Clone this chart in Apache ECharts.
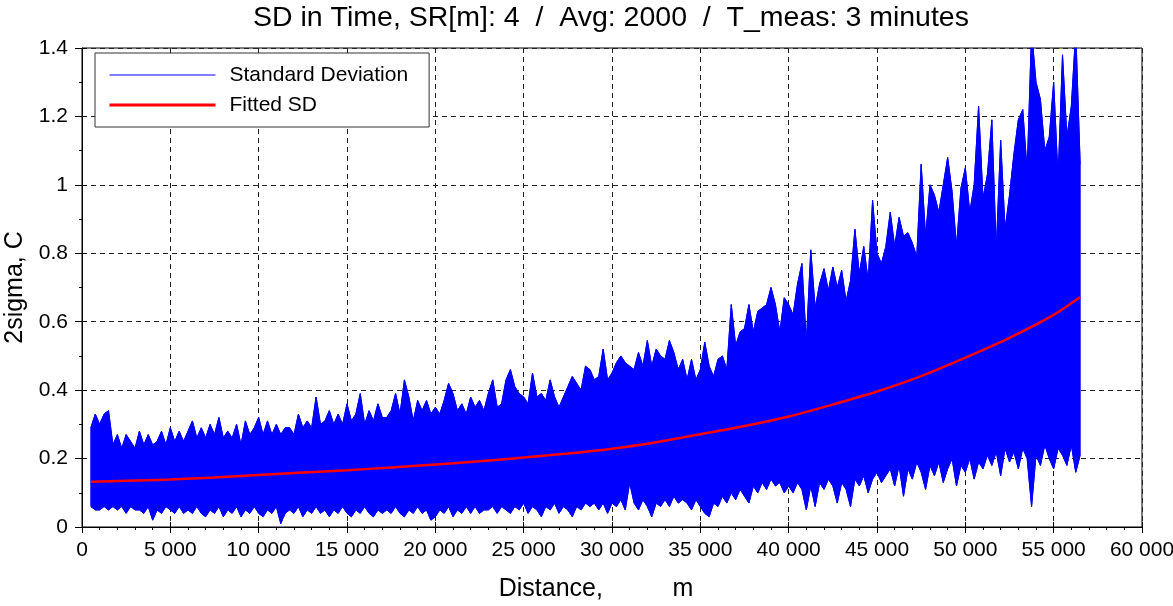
<!DOCTYPE html>
<html>
<head>
<meta charset="utf-8">
<script src="https://cdn.jsdelivr.net/npm/echarts@6/dist/echarts.min.js"></script>
<style>
  html, body { margin: 0; padding: 0; background: #fff; }
  #chart { width: 1173px; height: 606px; }
</style>
</head>
<body>
<div id="chart"></div>
<script>
// Standard deviation envelope, sampled every 250 m from 500 m
const sampleStart = 500;
const sampleStep = 250;

// upper edge of the 2-sigma trace (C)
const sdUpper = [
  0.29, 0.33, 0.30, 0.33, 0.34, 0.24, 0.27, 0.23, 0.27, 0.25, 0.23, 0.28, 0.24, 0.27, 0.24, 0.25, 0.28, 0.24, 0.29, 0.25, 0.28, 0.25,
  0.28, 0.31, 0.26, 0.29, 0.26, 0.30, 0.27, 0.32, 0.26, 0.28, 0.26, 0.30, 0.24, 0.31, 0.27, 0.29, 0.32, 0.27, 0.31, 0.27, 0.30, 0.27, 0.29,
  0.29, 0.27, 0.33, 0.29, 0.31, 0.29, 0.38, 0.30, 0.31, 0.34, 0.30, 0.33, 0.30, 0.36, 0.31, 0.33, 0.39, 0.30, 0.34, 0.31, 0.36, 0.32,
  0.32, 0.34, 0.39, 0.33, 0.43, 0.38, 0.31, 0.37, 0.34, 0.37, 0.33, 0.35, 0.33, 0.37, 0.42, 0.39, 0.34, 0.36, 0.33, 0.38, 0.35, 0.37, 0.34,
  0.39, 0.43, 0.35, 0.36, 0.43, 0.46, 0.41, 0.39, 0.38, 0.36, 0.45, 0.38, 0.39, 0.37, 0.43, 0.38, 0.35, 0.38, 0.41, 0.44, 0.42, 0.40, 0.47,
  0.46, 0.43, 0.44, 0.52, 0.43, 0.45, 0.48, 0.50, 0.48, 0.47, 0.46, 0.51, 0.47, 0.545, 0.47, 0.52, 0.50, 0.49, 0.545, 0.51, 0.46, 0.49,
  0.43, 0.49, 0.43, 0.46, 0.54, 0.47, 0.44, 0.49, 0.50, 0.46, 0.65, 0.53, 0.57, 0.58, 0.65, 0.57, 0.63, 0.64, 0.65, 0.70, 0.65, 0.57, 0.67,
  0.65, 0.62, 0.71, 0.77, 0.54, 0.81, 0.64, 0.71, 0.755, 0.69, 0.76, 0.70, 0.75, 0.66, 0.72, 0.87, 0.74, 0.82, 0.72, 0.955, 0.80, 0.77, 0.82,
  0.92, 0.82, 0.905, 0.85, 0.86, 0.83, 0.79, 1.06, 0.85, 1.00, 0.97, 0.92, 1.00, 1.08, 0.98, 0.82, 0.99, 1.05, 0.92, 1.00, 1.23, 0.96,
  1.03, 1.19, 0.81, 1.13, 0.87, 0.97, 1.09, 1.19, 1.22, 1.04, 1.45, 1.30, 1.25, 1.10, 1.14, 1.30, 1.02, 1.38, 1.14, 1.23, 1.45, 1.06
];

// lower edge of the 2-sigma trace (C)
const sdLower = [
  0.06, 0.05, 0.05, 0.06, 0.05, 0.06, 0.05, 0.06, 0.04, 0.06, 0.05, 0.05, 0.04, 0.06, 0.02, 0.05, 0.04, 0.06, 0.05, 0.04, 0.06, 0.04,
  0.05, 0.04, 0.06, 0.04, 0.03, 0.05, 0.04, 0.06, 0.03, 0.05, 0.04, 0.06, 0.03, 0.05, 0.04, 0.06, 0.04, 0.03, 0.05, 0.04, 0.06, 0.01, 0.04,
  0.05, 0.04, 0.06, 0.03, 0.05, 0.04, 0.06, 0.04, 0.05, 0.03, 0.05, 0.04, 0.06, 0.04, 0.03, 0.05, 0.04, 0.06, 0.04, 0.03, 0.05, 0.04,
  0.05, 0.04, 0.06, 0.04, 0.03, 0.05, 0.04, 0.06, 0.04, 0.05, 0.02, 0.03, 0.05, 0.04, 0.06, 0.03, 0.05, 0.04, 0.06, 0.04, 0.06, 0.04, 0.05,
  0.05, 0.06, 0.04, 0.06, 0.05, 0.04, 0.06, 0.05, 0.07, 0.04, 0.06, 0.05, 0.03, 0.06, 0.05, 0.07, 0.04, 0.06, 0.05, 0.03, 0.06, 0.05, 0.07,
  0.06, 0.07, 0.05, 0.07, 0.04, 0.07, 0.06, 0.08, 0.05, 0.13, 0.07, 0.05, 0.08, 0.06, 0.03, 0.07, 0.06, 0.08, 0.06, 0.09, 0.07, 0.08,
  0.07, 0.05, 0.08, 0.06, 0.04, 0.03, 0.07, 0.06, 0.09, 0.07, 0.10, 0.08, 0.11, 0.09, 0.07, 0.12, 0.10, 0.13, 0.11, 0.14, 0.12, 0.13, 0.10,
  0.12, 0.10, 0.13, 0.11, 0.05, 0.12, 0.06, 0.13, 0.11, 0.14, 0.12, 0.07, 0.13, 0.11, 0.06, 0.14, 0.12, 0.15, 0.10, 0.14, 0.16, 0.13, 0.15,
  0.17, 0.12, 0.18, 0.09, 0.17, 0.14, 0.19, 0.16, 0.11, 0.18, 0.15, 0.19, 0.13, 0.17, 0.20, 0.12, 0.18, 0.16, 0.20, 0.14, 0.19, 0.17,
  0.21, 0.18, 0.22, 0.15, 0.23, 0.19, 0.22, 0.17, 0.23, 0.20, 0.06, 0.21, 0.18, 0.24, 0.20, 0.17, 0.23, 0.21, 0.18, 0.24, 0.16, 0.21
];

// fitted standard deviation curve
const fitDistance = [500, 2500, 5000, 7500, 10000, 12500, 15000, 17500, 20000, 22500, 25000, 27500,
                     30000, 32500, 35000, 37500, 40000, 42500, 45000, 47500, 50000, 52500, 55000, 56500];
const fitValue = [0.132, 0.135, 0.139, 0.145, 0.152, 0.159, 0.166, 0.174, 0.183, 0.192, 0.203, 0.215,
                  0.229, 0.248, 0.271, 0.295, 0.323, 0.358, 0.396, 0.441, 0.495, 0.553, 0.620, 0.672];

const distances = sdUpper.map((_, i) => sampleStart + i * sampleStep);
const upperPts = distances.map((d, i) => [d, sdUpper[i]]);
const lowerPts = distances.map((d, i) => [d, sdLower[i]]);
const bandRows = distances.map((d, i) => [d, sdUpper[i], sdLower[i]]);
const fitPts = fitDistance.map((d, i) => [d, fitValue[i]]);

const FONT = '"Liberation Sans", Arial, sans-serif';
const BLUE = '#0000ff';
const RED = '#ff0000';
const GRID_LINE = { show: true, lineStyle: { color: '#222', type: [5, 4], width: 1 } };

function fmtDistance(v) {
  return String(v).replace(/\B(?=(\d{3})+(?!\d))/g, ' ');
}

// filled region between the lower and upper edges of the trace
function renderBand(params, api) {
  if (params.dataIndex !== 0) return null;
  const top = bandRows.map(r => api.coord([r[0], r[1]]));
  const bottom = bandRows.map(r => api.coord([r[0], r[2]])).reverse();
  const cs = params.coordSys;
  return {
    type: 'group',
    clipPath: { type: 'rect', shape: { x: cs.x, y: cs.y, width: cs.width, height: cs.height } },
    children: [{
      type: 'polygon',
      shape: { points: top.concat(bottom) },
      style: { fill: BLUE, stroke: BLUE, lineWidth: 1 }
    }]
  };
}

const chart = echarts.init(document.getElementById('chart'), null, { renderer: 'canvas' });
chart.setOption({
  animation: false,
  backgroundColor: '#fff',
  textStyle: { fontFamily: FONT },
  title: {
    text: 'SD in Time, SR[m]: 4  /  Avg: 2000  /  T_meas: 3 minutes',
    left: 253,
    top: 4,
    padding: 0,
    textStyle: { fontFamily: FONT, fontSize: 28.5, fontWeight: 'normal', color: '#000' }
  },
  legend: {
    data: [
      { name: 'Standard Deviation', lineStyle: { width: 1 } },
      { name: 'Fitted SD', lineStyle: { width: 3 } }
    ],
    orient: 'vertical',
    left: 95,
    top: 53,
    padding: [11.5, 21, 11.5, 13],
    itemWidth: 106,
    itemHeight: 14,
    itemGap: 9,
    itemStyle: { opacity: 0 },
    backgroundColor: '#fff',
    borderColor: '#333',
    borderWidth: 1,
    borderRadius: 0,
    selectedMode: false,
    textStyle: { fontFamily: FONT, fontSize: 21, lineHeight: 21, color: '#000', padding: [0, 0, 0, 9] }
  },
  grid: {
    left: 82, right: 31, top: 48, bottom: 79,
    show: true, borderColor: '#000', borderWidth: 1, backgroundColor: 'transparent',
    containLabel: false, outerBoundsMode: 'none'
  },
  xAxis: [{
    type: 'value', min: 0, max: 60000, interval: 5000, position: 'bottom',
    name: 'Distance,          m', nameLocation: 'middle', nameGap: 50,
    nameTextStyle: { fontFamily: FONT, fontSize: 25, color: '#000', padding: [0, 32, 0, 0] },
    axisLine: { show: true, lineStyle: { color: '#000', width: 1 } },
    axisTick: { show: true, inside: false, length: 6, lineStyle: { color: '#000' } },
    minorTick: { show: true, splitNumber: 5, length: 3, lineStyle: { color: '#000' } },
    axisLabel: { fontFamily: FONT, fontSize: 21, color: '#000', margin: 13, formatter: fmtDistance },
    splitLine: GRID_LINE,
    minorSplitLine: { show: false }
  }, {
    type: 'value', min: 0, max: 60000, interval: 5000, position: 'bottom',
    axisLine: { show: false },
    axisTick: { show: true, inside: true, length: 5, lineStyle: { color: '#000' } },
    axisLabel: { show: false },
    splitLine: { show: false }
  }],
  yAxis: [{
    type: 'value', min: 0, max: 1.4, interval: 0.2, position: 'left',
    name: '2sigma, C', nameLocation: 'middle', nameGap: 52, nameRotate: 90,
    nameTextStyle: { fontFamily: FONT, fontSize: 25, color: '#000' },
    axisLine: { show: true, lineStyle: { color: '#000', width: 1 } },
    axisTick: { show: true, inside: false, length: 7, lineStyle: { color: '#000' } },
    minorTick: { show: true, splitNumber: 2, length: 3, lineStyle: { color: '#000' } },
    axisLabel: { fontFamily: FONT, fontSize: 21, color: '#000', margin: 14 },
    splitLine: GRID_LINE,
    minorSplitLine: { show: false }
  }, {
    type: 'value', min: 0, max: 1.4, interval: 0.2, position: 'left',
    axisLine: { show: false },
    axisTick: { show: true, inside: true, length: 5, lineStyle: { color: '#000' } },
    axisLabel: { show: false },
    splitLine: { show: false }
  }],
  series: [{
    type: 'custom',
    name: 'band',
    renderItem: renderBand,
    data: bandRows,
    encode: { x: 0, y: [1, 2] },
    clip: true,
    silent: true,
    z: 2
  }, {
    type: 'line',
    name: 'Standard Deviation',
    data: upperPts,
    symbol: 'none',
    lineStyle: { color: BLUE, width: 1 },
    itemStyle: { color: BLUE },
    silent: true,
    z: 3
  }, {
    type: 'line',
    name: 'Standard Deviation',
    data: lowerPts,
    symbol: 'none',
    lineStyle: { color: BLUE, width: 1 },
    itemStyle: { color: BLUE },
    silent: true,
    z: 3
  }, {
    type: 'line',
    name: 'Fitted SD',
    data: fitPts,
    symbol: 'none',
    smooth: 0.3,
    lineStyle: { color: RED, width: 2.5 },
    itemStyle: { color: RED },
    silent: true,
    z: 4
  }]
});
</script>
</body>
</html>
